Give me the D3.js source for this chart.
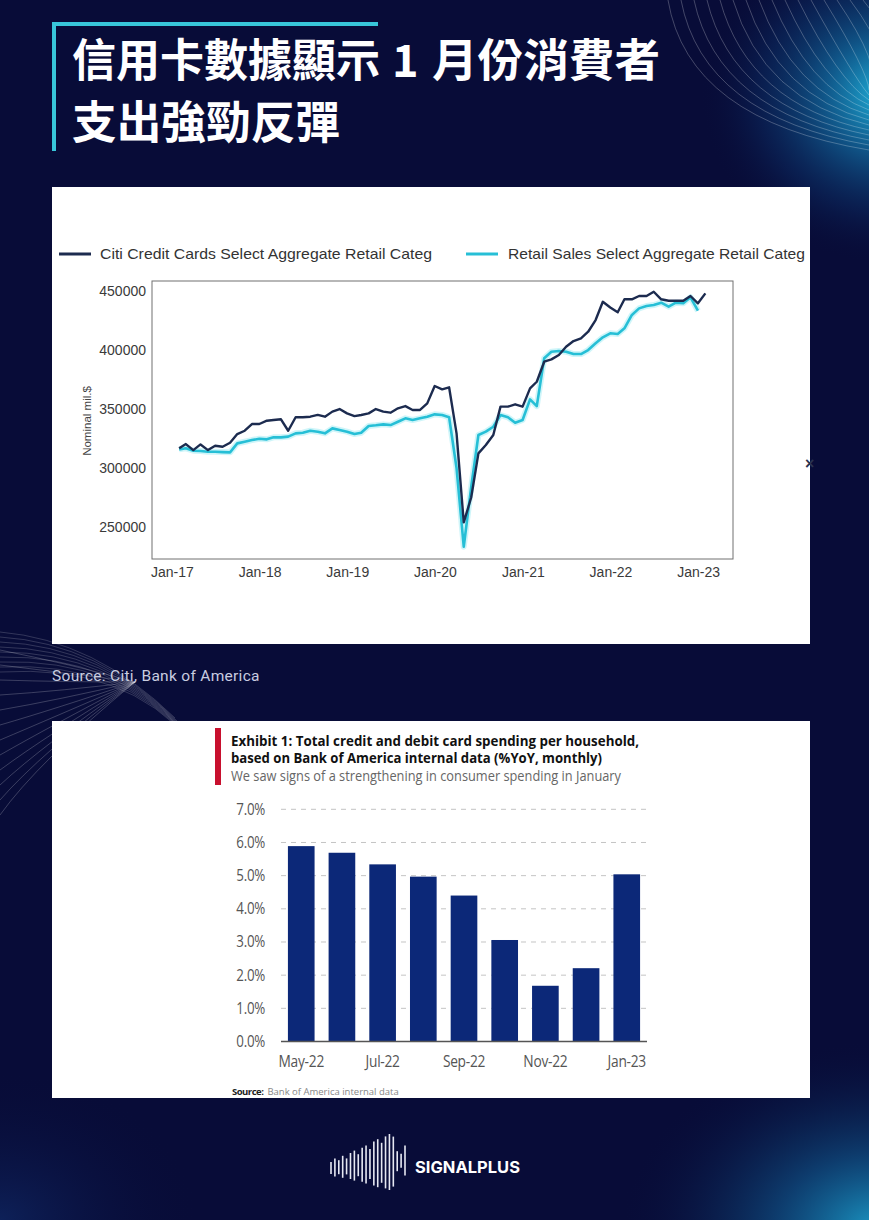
<!DOCTYPE html>
<html><head><meta charset="utf-8">
<script src="https://cdn.jsdelivr.net/npm/d3@7"></script>
<style>html,body{margin:0;padding:0;background:#080c38;} svg{display:block}</style>
</head><body><svg id="c" width="869" height="1220"></svg>
<script>
// ---------- DATA ----------
const titleLines = ["信用卡數據顯示", "1", "月份消費者", "支出強勁反彈"];
const lineSeriesNames = ["Citi Credit Cards Select Aggregate Retail Categ", "Retail Sales Select Aggregate Retail Categ"];
const lineStart = [2017, 0]; // monthly from Jan-17
const citiValues = [
  316.7, 320.3, 315.2, 320.0, 315.2, 318.9, 318.0, 321.4, 328.8, 331.6, 337.3, 337.3,
  340.1, 340.7, 341.3, 331.6, 343.0, 343.0, 343.5, 345.0, 343.5, 347.8, 350.0, 346.3,
  344.0, 344.9, 346.3, 350.0, 347.8, 346.9, 350.6, 352.5, 349.2, 349.2, 354.8, 369.5,
  366.7, 368.4, 329.4, 254.0, 275.0, 312.4, 319.5, 328.0, 352.0, 352.0, 354.0, 352.0,
  367.5, 373.1, 390.1, 392.1, 395.8, 402.8, 407.6, 409.9, 415.5, 425.4, 440.9, 436.0,
  432.0, 443.0, 443.0, 445.8, 445.8, 449.4, 443.0, 441.8, 441.8, 441.8, 445.8, 439.6,
  448.0
];
const retailValues = [
  315.8, 316.7, 314.7, 314.4, 313.8, 313.8, 313.5, 313.3, 320.9, 322.3, 323.7, 324.8,
  324.3, 326.0, 326.0, 326.6, 329.4, 329.9, 331.6, 330.8, 329.4, 333.6, 332.2, 330.8,
  328.8, 329.9, 335.6, 336.2, 337.0, 336.4, 339.2, 342.1, 340.7, 342.1, 343.5, 345.5,
  345.0, 343.0, 300.0, 233.3, 284.0, 328.0, 330.8, 335.0, 344.9, 343.0, 338.4, 340.7,
  358.2, 352.5, 393.0, 398.6, 399.2, 398.6, 396.6, 396.6, 400.0, 405.7, 410.8, 414.2,
  413.6, 418.4, 429.7, 435.3, 437.3, 438.1, 440.1, 436.7, 440.1, 439.6, 444.7, 433.3
];
const lineYTicks = [250000, 300000, 350000, 400000, 450000];
const lineXTickYears = [2017, 2018, 2019, 2020, 2021, 2022, 2023];
const lineXTickLabels = ["Jan-17", "Jan-18", "Jan-19", "Jan-20", "Jan-21", "Jan-22", "Jan-23"];
const lineYLabel = "Nominal mil.$";
const sourceTop = "Source: Citi, Bank of America";

const barTitle1 = "Exhibit 1: Total credit and debit card spending per household,";
const barTitle2 = "based on Bank  of America internal data (%YoY, monthly)";
const barSubtitle = "We saw signs of a strengthening in consumer spending in January";
const barCategories = ["May-22", "Jun-22", "Jul-22", "Aug-22", "Sep-22", "Oct-22", "Nov-22", "Dec-22", "Jan-23"];
const barValues = [5.89, 5.69, 5.34, 4.97, 4.40, 3.06, 1.68, 2.21, 5.04];
const barYTicks = [0, 1, 2, 3, 4, 5, 6, 7];
const barXLabels = ["May-22", "Jul-22", "Sep-22", "Nov-22", "Jan-23"];
const barSourceBold = "Source:";
const barSourceText = "Bank of America internal data";
const brandName = "SIGNALPLUS";
const logoBarHeights = [12, 18, 14, 22, 16, 26, 30, 22, 34, 38, 30, 44, 48, 40, 52, 56, 50, 20, 14, 30];

// ---------- SETUP ----------
const svg = d3.select("#c");
const defs = svg.append("defs");
const bg = "#080c38";
svg.append("rect").attr("width", 869).attr("height", 1220).attr("fill", bg);

function radial(id, stops) {
  const g = defs.append("radialGradient").attr("id", id);
  stops.forEach(s => g.append("stop").attr("offset", s[0]).attr("stop-color", s[1]).attr("stop-opacity", s[2]));
}
radial("gTR", [[0, "#22c8ee", 0.95], [0.35, "#1690c8", 0.55], [0.7, "#0e4a8a", 0.25], [1, bg, 0]]);
radial("gBR", [[0, "#1fb4e0", 0.85], [0.4, "#1478b0", 0.45], [1, bg, 0]]);
radial("gBL", [[0, "#143a80", 0.45], [1, bg, 0]]);

svg.append("ellipse").attr("cx", 890).attr("cy", 95).attr("rx", 190).attr("ry", 170).attr("fill", "url(#gTR)");
svg.append("ellipse").attr("cx", 880).attr("cy", 1230).attr("rx", 260).attr("ry", 190).attr("fill", "url(#gBR)");
svg.append("ellipse").attr("cx", 0).attr("cy", 1220).attr("rx", 200).attr("ry", 150).attr("fill", "url(#gBL)");

// globe-like lines top right
const deco = svg.append("g").attr("fill", "none").attr("stroke", "#ffffff").attr("stroke-width", 0.7);
d3.range(16).forEach(i => {
  const sx = 668 + i * 13;
  const ex = 869, ey = 150 - i * 5;
  deco.append("path")
    .attr("d", `M${sx},0 Q${sx + 20 + i * 2},${120 - i * 4} ${ex},${ey}`)
    .attr("stroke-opacity", 0.35);
});
// lines middle-left converging toward a pole
d3.range(12).forEach(i => {
  deco.append("path")
    .attr("d", `M135,682 Q${70 - i * 3},${664 + i * 9} 0,${650 + i * 15}`)
    .attr("stroke-opacity", 0.3);
});
d3.range(9).forEach(i => {
  deco.append("path")
    .attr("d", `M0,${632 + i * 5} Q${95 + i * 4},${640 + i * 3} ${175 + i * 2},${718 + i * 3}`)
    .attr("stroke-opacity", 0.25);
});

// ---------- TITLE ----------
const cyan = "#38c6d9";
svg.append("line").attr("x1", 52).attr("x2", 378).attr("y1", 24).attr("y2", 24).attr("stroke", cyan).attr("stroke-width", 4);
svg.append("line").attr("x1", 54).attr("x2", 54).attr("y1", 22).attr("y2", 151).attr("stroke", cyan).attr("stroke-width", 4);
const tf = "'Noto Sans CJK TC','Noto Sans CJK SC',sans-serif";
const tt = svg.append("g").attr("fill", "#fff").attr("font-family", tf).attr("font-weight", 700).attr("font-size", 45);
tt.append("text").attr("x", 72).attr("y", 77).attr("textLength", 308).attr("lengthAdjust", "spacingAndGlyphs").text(titleLines[0]);
tt.append("text").attr("x", 392).attr("y", 77).text(titleLines[1]);
tt.append("text").attr("x", 432).attr("y", 77).attr("textLength", 228).attr("lengthAdjust", "spacingAndGlyphs").text(titleLines[2]);
tt.append("text").attr("x", 72).attr("y", 139).attr("textLength", 268).attr("lengthAdjust", "spacingAndGlyphs").text(titleLines[3]);

// ---------- PANEL 1: LINE CHART ----------
svg.append("rect").attr("x", 52).attr("y", 187).attr("width", 758).attr("height", 457).attr("fill", "#fff");
const arial = "'Liberation Sans', Arial, sans-serif";
const dateOf = i => new Date(lineStart[0], lineStart[1] + i + 1, 0);
const x = d3.scaleTime().domain([new Date(2016, 9, 10), new Date(2023, 4, 26)]).range([152, 733]);
const y = d3.scaleLinear().domain([222900, 458500]).range([559, 281]);

const lc = svg.append("g");
lc.append("rect").attr("x", 152).attr("y", 281).attr("width", 581).attr("height", 278)
  .attr("fill", "none").attr("stroke", "#707070").attr("stroke-width", 1);

const yAxis = d3.axisLeft(y).tickValues(lineYTicks).tickSize(0).tickPadding(6).tickFormat(d3.format("d"));
lc.append("g").attr("transform", "translate(152,0)").call(yAxis)
  .call(g => g.select(".domain").remove())
  .call(g => g.selectAll("text").attr("font-family", arial).attr("font-size", 14).attr("fill", "#3a3a3a"));

const xAxis = d3.axisBottom(x).tickValues(lineXTickYears.map(yv => new Date(yv, 0, 1))).tickSize(0).tickPadding(8)
  .tickFormat((d, i) => lineXTickLabels[i]);
lc.append("g").attr("transform", "translate(0,559)").call(xAxis)
  .call(g => g.select(".domain").remove())
  .call(g => g.selectAll("text").attr("font-family", arial).attr("font-size", 14).attr("fill", "#3a3a3a"));

lc.append("text").attr("transform", "translate(91,421) rotate(-90)").attr("text-anchor", "middle")
  .attr("font-family", arial).attr("font-size", 11.5).attr("fill", "#444").text(lineYLabel);

const lineGen = d3.line().x((d, i) => x(dateOf(i))).y(d => y(d * 1000));
const darkLine = "#1c2b4f", cyanLine = "#26bfd6";
lc.append("path").datum(retailValues).attr("d", lineGen).attr("fill", "none").attr("stroke", "#a8ecf4").attr("stroke-width", 6).attr("stroke-opacity", 0.55).attr("stroke-linejoin", "round");
lc.append("path").datum(retailValues).attr("d", lineGen).attr("fill", "none").attr("stroke", cyanLine).attr("stroke-width", 2.6).attr("stroke-linejoin", "round");
lc.append("path").datum(citiValues).attr("d", lineGen).attr("fill", "none").attr("stroke", darkLine).attr("stroke-width", 2.4).attr("stroke-linejoin", "round");

// legend
const lg = svg.append("g").attr("font-family", arial).attr("font-size", 15).attr("fill", "#333");
lg.append("line").attr("x1", 59).attr("x2", 91).attr("y1", 254).attr("y2", 254).attr("stroke", darkLine).attr("stroke-width", 3);
lg.append("text").attr("x", 100).attr("y", 259).attr("textLength", 332).attr("lengthAdjust", "spacingAndGlyphs").text(lineSeriesNames[0]);
lg.append("line").attr("x1", 466).attr("x2", 498).attr("y1", 254).attr("y2", 254).attr("stroke", cyanLine).attr("stroke-width", 3);
lg.append("text").attr("x", 508).attr("y", 259).attr("textLength", 297).attr("lengthAdjust", "spacingAndGlyphs").text(lineSeriesNames[1]);

svg.append("text").attr("x", 805).attr("y", 469).attr("font-family", arial).attr("font-size", 16).attr("font-weight", 700).attr("fill", "#2a3350").text("×");

svg.append("text").attr("x", 52).attr("y", 681).attr("font-family", "'Roboto','Noto Sans',sans-serif").attr("font-size", 15.5)
  .attr("fill", "#c9cde0").attr("letter-spacing", 0.3).text(sourceTop);

// ---------- PANEL 2: BAR CHART ----------
svg.append("rect").attr("x", 52).attr("y", 721).attr("width", 758).attr("height", 377).attr("fill", "#fff");
const narrow = "'Open Sans',sans-serif";
svg.append("rect").attr("x", 215).attr("y", 728).attr("width", 6).attr("height", 57).attr("fill", "#c8102e");
const bt = svg.append("g").attr("font-family", narrow);
bt.append("text").attr("x", 231).attr("y", 746).attr("font-size", 14.5).attr("font-weight", 700).attr("fill", "#111")
  .attr("textLength", 408).attr("lengthAdjust", "spacingAndGlyphs").text(barTitle1);
bt.append("text").attr("x", 231).attr("y", 763).attr("font-size", 14.5).attr("font-weight", 700).attr("fill", "#111")
  .attr("textLength", 371).attr("lengthAdjust", "spacingAndGlyphs").text(barTitle2);
bt.append("text").attr("x", 231).attr("y", 781).attr("font-size", 14).attr("fill", "#666")
  .attr("textLength", 390).attr("lengthAdjust", "spacingAndGlyphs").text(barSubtitle);

const bx = d3.scaleBand().domain(barCategories).range([281, 647]).paddingInner(0.345).paddingOuter(0.17);
const by = d3.scaleLinear().domain([0, 7]).range([1041.5, 809.3]);
const bc = svg.append("g");
bc.append("g").selectAll("line").data(barYTicks.filter(d => d > 0)).join("line")
  .attr("x1", 281).attr("x2", 647).attr("y1", d => by(d)).attr("y2", d => by(d))
  .attr("stroke", "#c4c4c4").attr("stroke-width", 1).attr("stroke-dasharray", "5,5");
bc.append("g").selectAll("rect").data(barValues).join("rect")
  .attr("x", (d, i) => bx(barCategories[i])).attr("width", bx.bandwidth())
  .attr("y", d => by(d)).attr("height", d => by(0) - by(d)).attr("fill", "#0c2878");
bc.append("line").attr("x1", 281).attr("x2", 647).attr("y1", by(0)).attr("y2", by(0)).attr("stroke", "#555").attr("stroke-width", 1.5);
bc.append("g").selectAll("text").data(barYTicks).join("text")
  .attr("transform", d => `translate(265,${by(d)}) scale(0.86,1)`).attr("dy", "0.35em").attr("text-anchor", "end")
  .attr("font-family", narrow).attr("font-size", 15.5).attr("fill", "#555").attr("letter-spacing", -0.3)
  .text(d => d.toFixed(1) + "%");
bc.append("g").selectAll("text").data(barXLabels).join("text")
  .attr("transform", d => `translate(${bx(d) + bx.bandwidth() / 2},1067) scale(0.86,1)`).attr("text-anchor", "middle")
  .attr("font-family", narrow).attr("font-size", 16).attr("fill", "#555").attr("letter-spacing", -0.3).text(d => d);
const src = svg.append("text").attr("x", 232).attr("y", 1095).attr("font-family", narrow).attr("font-size", 9.5).attr("fill", "#888");
src.append("tspan").attr("font-weight", 700).attr("fill", "#222").attr("letter-spacing", -0.5).text(barSourceBold);
src.append("tspan").attr("dx", 4).text(barSourceText);

// ---------- LOGO ----------
const lgX = d3.scaleLinear().domain([0, logoBarHeights.length - 1]).range([331, 405]);
svg.append("g").selectAll("line").data(logoBarHeights).join("line")
  .attr("x1", (d, i) => lgX(i)).attr("x2", (d, i) => lgX(i))
  .attr("y1", (d, i) => 1168 - d / 2 - i * 0.4).attr("y2", (d, i) => 1168 + d / 2 - i * 0.4)
  .attr("stroke", "#e6e8f2").attr("stroke-width", 1.6);
svg.append("text").attr("x", 415).attr("y", 1173).attr("font-family", "'Inter','Roboto',sans-serif").attr("font-weight", 700)
  .attr("font-size", 16.5).attr("fill", "#fff").text(brandName);
</script></body></html>
